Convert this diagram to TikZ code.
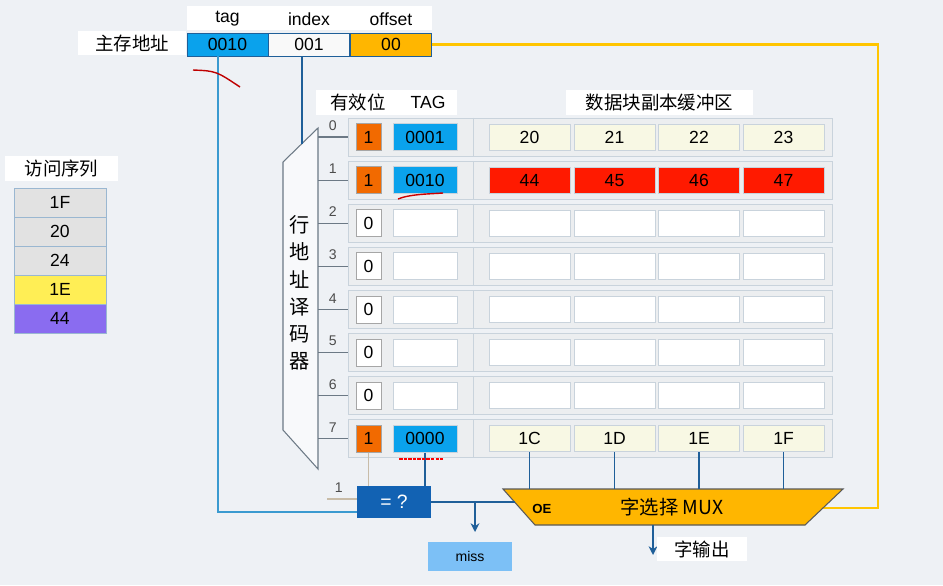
\documentclass[tikz,border=0pt]{standalone}
\usepackage{fontspec}
\setmainfont{Liberation Sans}
\newfontfamily\cjk{Noto Sans CJK SC}
\usepackage{xcolor}
\usepackage{tikz}
\usetikzlibrary{arrows.meta,calc}
\definecolor{bgc}{HTML}{EEF1F5}
\definecolor{tagblue}{HTML}{0AA2EC}
\definecolor{validor}{HTML}{F26A00}
\definecolor{hitred}{HTML}{FF1A00}
\definecolor{cream}{HTML}{F8F8E4}
\definecolor{gold}{HTML}{FFB600}
\definecolor{linblue}{HTML}{1F5F99}
\definecolor{lightln}{HTML}{3A9AD0}
\definecolor{cmpblue}{HTML}{1262B3}
\definecolor{missblue}{HTML}{7CC0F6}
\definecolor{framec}{HTML}{C9D3DC}
\definecolor{rowfill}{HTML}{ECEEF0}
\definecolor{seqgray}{HTML}{E2E2E2}
\definecolor{seqpurple}{HTML}{8A6CF0}
\definecolor{seqyellow}{HTML}{FFEE55}
\definecolor{tanline}{HTML}{C8BCA8}

\begin{document}
\begin{tikzpicture}[x=0.02cm,y=-0.02cm,>={Stealth[length=5pt,width=5pt]},font=\fontsize{10}{12}\selectfont,
fld/.style={draw=linblue,minimum width=1.62cm,minimum height=0.46cm,inner sep=0pt},
lbl/.style={fill=white,inner sep=2pt},
vbit/.style={draw=gray!70,minimum width=0.5cm,minimum height=0.54cm,inner sep=0pt},
tagc/.style={draw=framec,minimum width=1.28cm,minimum height=0.54cm,inner sep=0pt},
datc/.style={draw=framec,minimum width=1.62cm,minimum height=0.52cm,inner sep=0pt},
rowbox/.style={draw=framec,fill=rowfill,minimum width=9.68cm,minimum height=0.76cm,inner sep=0pt},
seqc/.style={draw=linblue!45,minimum width=1.84cm,minimum height=0.58cm,inner sep=0pt},
blu/.style={linblue,line width=1.1pt},
tanln/.style={tanline,line width=1.1pt},
decl/.style={gray!80!linblue,line width=0.6pt}]
\useasboundingbox (0,0) rectangle (943,585);
\fill[bgc] (0,0) rectangle (943,585);
% main memory address
\node[lbl,minimum width=4.9cm,minimum height=0.5cm] (hdr) at (309.5,18) {};
\node (htag) at (227.5,19) {tag};
\node (hidx) at (309,19) {index};
\node (hoff) at (391,19) {offset};
\node[lbl,minimum width=2.16cm,minimum height=0.48cm] (addr) at (132,43) {\cjk\fontsize{10.5}{12}\selectfont 主存地址};
\node[fld,fill=tagblue] (fT) at (227.5,44.5) {0010};
\node[fld,fill=white!95!gray] (fI) at (309,44.5) {001};
\node[fld,fill=gold] (fO) at (391,44.5) {00};
% access sequence
\node[lbl,minimum width=2.26cm,minimum height=0.5cm] (seqh) at (61.5,168) {\cjk\fontsize{10.5}{12}\selectfont 访问序列};
\foreach \s/\c/\k in {1F/seqgray/1,20/seqgray/2,24/seqgray/3,1E/seqyellow/4,44/seqpurple/5}
  \node[seqc,fill=\c] (s\k) at (60,173.5+29*\k) {\s};
% headers
\node[lbl,minimum width=2.82cm,minimum height=0.5cm] (vth) at (386.5,102.5) {};
\node (vh) at (358,102.5) {\cjk\fontsize{10.5}{12}\selectfont 有效位};
\node (th) at (428,102.5) {TAG};
\node[lbl,minimum width=3.74cm,minimum height=0.48cm] (dh) at (659.5,102.5) {\cjk\fontsize{10.5}{12}\selectfont 数据块副本缓冲区};
% decoder
\draw[decl,fill=white!60!bgc] (318,128) -- (283,162) -- (283,430) -- (318,469) -- cycle;
\node[align=center,font=\cjk\fontsize{11.5}{15.5}\selectfont] (dec) at (300,293) {行\\地\\址\\译\\码\\器};
% rows
\foreach \r/\v/\vf/\t/\tf/\fc/\da/\db/\dc/\dd in {0/1/validor/0001/tagblue/cream/20/21/22/23,
  1/1/validor/0010/tagblue/hitred/44/45/46/47,2/0/white/{}/white/white/{}/{}/{}/{},
  3/0/white/{}/white/white/{}/{}/{}/{},4/0/white/{}/white/white/{}/{}/{}/{},
  5/0/white/{}/white/white/{}/{}/{}/{},6/0/white/{}/white/white/{}/{}/{}/{},
  7/1/validor/0000/tagblue/cream/1C/1D/1E/1F}{
  \pgfmathsetmacro\yc{137+43.1*\r}
  \node[rowbox] (row\r) at (590,\yc) {};
  \draw[framec] ($(row\r.north west)+(126,0)$) -- ($(row\r.south west)+(126,0)$);
  \draw[decl] (row\r.west) -- ++(-30,0) node[midway,above,font=\fontsize{8}{9}\selectfont,text=gray!60!black]{\r};
  \node[vbit,fill=\vf] (v\r) at (368.5,\yc) {\v};
  \node[tagc,fill=\tf] (t\r) at (425,\yc) {\t};
  \node[datc,fill=\fc] (d\r1) at (529.5,\yc) {\da};
  \node[datc,fill=\fc] (d\r2) at (614.5,\yc) {\db};
  \node[datc,fill=\fc] (d\r3) at (699,\yc) {\dc};
  \node[datc,fill=\fc] (d\r4) at (783.5,\yc) {\dd};
}
% comparator
\node[fill=cmpblue,text=white,minimum width=1.48cm,minimum height=0.64cm,font=\fontsize{11}{12}\selectfont] (cmp) at (394,502) {= ?};
% address lines
\coordinate (tagout) at (218,56);
\coordinate (decin) at (302,144);
\draw[lightln,line width=1.2pt] (tagout) |- ([yshift=-0.2cm]cmp.west);
\draw[blu] (fI.south -| decin) -- (decin);
\draw[gold!80!yellow,line width=1.4pt] (fO.east) -- ++(446,0) |- (823,508) coordinate (muxin);
\draw[tanln] (v7.south) -- (v7.south |- cmp.north);
\draw[blu] (t7.south) -- (t7.south |- cmp.north);
\coordinate (one) at (327,499);
\draw[tanln,line width=0.8pt] (one) -- (one -| cmp.west) node[pos=0.4,above,font=\fontsize{8}{9}\selectfont,text=gray!60!black]{1};
% word select mux
\draw[gray!70!black,fill=gold,line width=0.6pt] (503,489) -- (843,489) -- (805,525) -- (535,525) -- cycle;
\node[font=\cjk\fontsize{11}{12}\selectfont] (mux) at (672,507) {字选择 MUX};
\node[font=\fontsize{7.5}{9}\selectfont\bfseries] (oe) at (542,509) {OE};
\foreach \k in {1,...,4}
  \draw[blu] (d7\k.south) -- (d7\k.south |- 0,489);
\coordinate (oein) at (515,502);
\coordinate (br) at (475,502);
\coordinate (brend) at (475,532);
\draw[blu] (cmp.east) -- (oein);
\draw[blu,->] (br) -- (brend);
\node[fill=missblue,minimum width=1.68cm,minimum height=0.58cm,font=\fontsize{8}{9}\selectfont] (miss) at (470,556) {miss};
\coordinate (muxout) at (653,525);
\coordinate (wordend) at (653,555);
\draw[blu,->] (muxout) -- (wordend);
\node[lbl,minimum width=1.8cm,minimum height=0.46cm] (word) at (702,549) {\cjk\fontsize{10.5}{12}\selectfont 字输出};
% red pen marks
\draw[red!75!black,line width=0.8pt] (193,70) .. controls (216,71) .. (240,87);
\draw[red!80!black,line width=0.8pt] (398,199) .. controls (410,194) and (430,194) .. (443,193);
\draw[red,line width=1.2pt,dash pattern=on 2pt off 0.6pt] (399,459) -- (443,459);
\end{tikzpicture}
\end{document}
